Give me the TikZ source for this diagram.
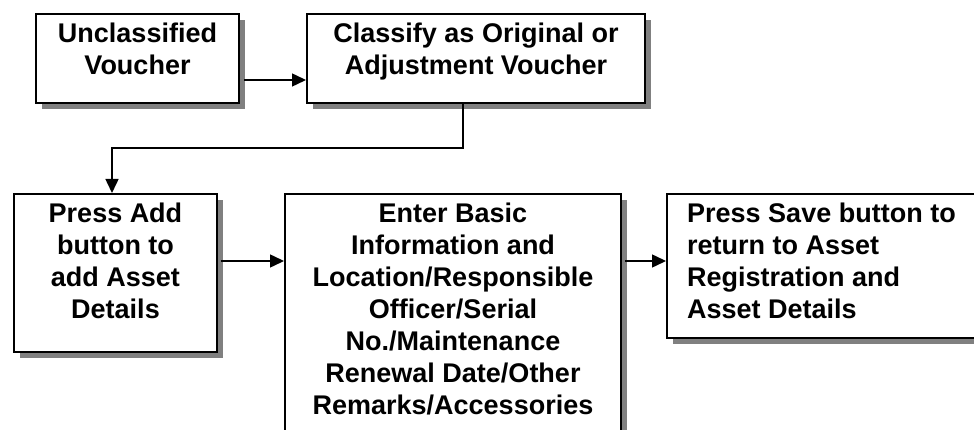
\documentclass[tikz,border=0pt]{standalone}
\usepackage{fontspec}
\setmainfont{Liberation Sans}
\usetikzlibrary{arrows.meta,shadows}
\begin{document}
\begin{tikzpicture}[x=1pt,y=-1pt,
  box/.style={draw=black, line width=2pt, fill=white, inner sep=0pt, anchor=north west,
    drop shadow={shadow xshift=6pt, shadow yshift=-6pt, fill=black!50, opacity=1}},
  lbl/.style={inner sep=0pt, anchor=north, align=center,
    font=\fontsize{27pt}{32pt}\selectfont\bfseries},
  arr/.style={line width=1.5pt, -{Triangle[length=14pt,width=13pt]}}]
\useasboundingbox (0,0) rectangle (974,430);
\clip (0,0) rectangle (974,430);
% boxes
\node[box, minimum width=203pt, minimum height=89pt] (b1) at (35,13) {};
\node[box, minimum width=338pt, minimum height=89pt] (b2) at (306,13) {};
\node[box, minimum width=203pt, minimum height=158pt] (b3) at (13,193) {};
\node[box, minimum width=336pt, minimum height=257pt] (b4) at (284,193) {};
\node[box, minimum width=334pt, minimum height=144pt] (b5) at (666,193) {};
% texts
\node[lbl] (t1) at ([yshift=-9.5pt]b1.north) {Unclassified\\Voucher};
\node[lbl] (t2) at ([yshift=-9.5pt]b2.north) {Classify as Original or\\Adjustment Voucher};
\node[lbl] (t3) at ([yshift=-9.5pt]b3.north) {Press Add\\button to\\add Asset\\Details};
\node[lbl] (t4) at ([yshift=-9.5pt]b4.north) {Enter Basic\\Information and\\Location/Responsible\\Officer/Serial\\No./Maintenance\\Renewal Date/Other\\Remarks/Accessories};
\node[lbl, anchor=north west, align=left] (t5) at (687,202.5) {Press Save button to\\return to Asset\\Registration and\\Asset Details};
% connectors
\coordinate (a1) at (244,80);
\draw[arr] (a1) -- (a1 -| b2.west);
\coordinate (c1) at (463,148);
\coordinate (c2) at (112,148);
\draw[arr] (c1 |- b2.south) -- (c1) -- (c2) -- (c2 |- b3.north);
\coordinate (a2) at (221,261);
\draw[arr] (a2) -- (a2 -| b4.west);
\coordinate (a3) at (625,261);
\draw[arr] (a3) -- (a3 -| b5.west);
\end{tikzpicture}
\end{document}
